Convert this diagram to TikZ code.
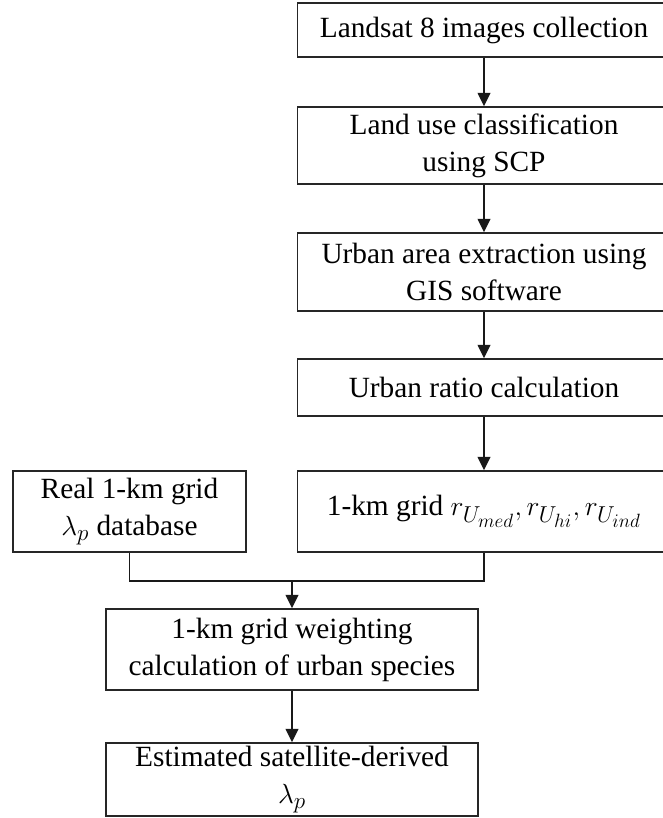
\documentclass[tikz,border=0pt]{standalone}
\usepackage{fontspec}
\setmainfont{Liberation Serif}
\DeclareMathSizes{22}{22}{17.5}{15}
\usepackage{tikz}
\usetikzlibrary{arrows.meta, positioning}

\begin{document}
\begin{tikzpicture}[
  x=0.75pt, y=-0.75pt,
  stepbox/.style={rectangle, draw=black!85, line width=1.1pt, fill=white,
    minimum width=280pt, align=center,
    font=\fontsize{22}{27.75}\selectfont, inner sep=0pt},
  sidebox/.style={stepbox, minimum width=174.75pt},
  arr/.style={-{Triangle[length=10pt, width=9.5pt]}, line width=1.1pt, draw=black!90},
  lnk/.style={line width=1.1pt, draw=black!90}
]
  \useasboundingbox (0,0) rectangle (662,818);

  % main chain on the right
  \node[stepbox, minimum height=40.5pt] (landsat) at (484, 30)    {Landsat 8 images collection};
  \node[stepbox, minimum height=57.75pt] (classif) at (484, 145.5) {Land use classification\\ using SCP};
  \node[stepbox, minimum height=58.5pt]  (extract) at (484, 272)   {Urban area extraction using\\ GIS software};
  \node[stepbox, minimum height=42.75pt] (ratio)   at (484, 387.5) {Urban ratio calculation};
  \node[stepbox, minimum height=60.75pt] (grid)    at (484, 511.5)
    {1-km grid $r_{U_{med}}, r_{U_{hi}}, r_{U_{ind}}$};

  \draw[arr] (landsat) -- (classif);
  \draw[arr] (classif) -- (extract);
  \draw[arr] (extract) -- (ratio);
  \draw[arr] (ratio)   -- (grid);

  % database on the left
  \node[sidebox, minimum height=60.75pt] (real) at (129.5, 511.5) {Real 1-km grid\\ $\lambda_p$ database};

  % merge and weighting
  \node[stepbox, minimum width=279pt, minimum height=60.75pt] (weight) at (292, 649.5)
    {1-km grid weighting\\ calculation of urban species};
  \node[stepbox, minimum width=279pt, minimum height=54.75pt] (estim)  at (292, 779.5)
    {Estimated satellite-derived\\ $\lambda_p$};

  \coordinate (join) at (292, 581);
  \draw[lnk] (real.south) |- (join) -| (grid.south);
  \draw[arr] (join)   -- (weight);
  \draw[arr] (weight) -- (estim);
\end{tikzpicture}
\end{document}
